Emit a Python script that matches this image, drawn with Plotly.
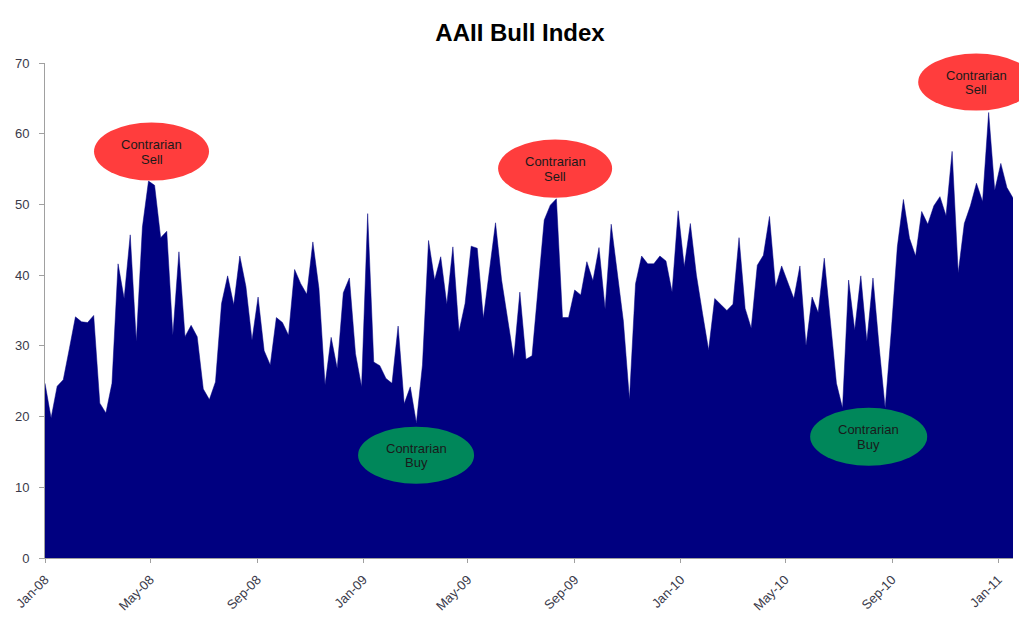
import pandas as pd
import plotly.graph_objects as go

# Weekly AAII bullish sentiment (%)
bull = [
    24.7, 19.8, 24.3, 25.2, 29.6, 34.1, 33.4, 33.3, 34.3, 21.9,
    20.5, 24.7, 41.6, 36.7, 45.7, 30.6, 46.8, 53.3, 52.7, 45.3,
    46.2, 31.5, 43.3, 31.3, 32.9, 31.3, 23.9, 22.4, 24.9, 36.0,
    39.9, 35.8, 42.7, 38.4, 30.8, 36.9, 29.3, 27.3, 34.0, 33.3,
    31.5, 40.8, 38.8, 37.3, 44.7, 38.1, 24.5, 31.2, 26.8, 37.5,
    39.6, 28.9, 24.2, 48.7, 27.7, 27.2, 25.4, 24.7, 32.8, 21.8,
    24.2, 19.1, 27.3, 44.9, 39.3, 42.6, 35.9, 44.0, 32.0, 36.0,
    44.1, 43.8, 33.9, 40.5, 47.4, 39.3, 33.6, 28.2, 37.6, 28.1,
    28.6, 38.0, 47.8, 49.9, 50.8, 34.0, 34.0, 37.9, 37.2, 41.9,
    39.2, 43.9, 35.2, 47.2, 40.0, 33.5, 22.4, 38.8, 42.7, 41.6,
    41.6, 42.7, 42.0, 37.6, 49.1, 41.2, 47.3, 40.0, 34.6, 29.4,
    36.7, 35.9, 35.0, 35.9, 45.3, 35.3, 32.5, 41.4, 42.8, 48.3,
    38.3, 41.3, 39.1, 36.7, 41.3, 30.0, 36.9, 34.7, 42.4, 33.5,
    24.7, 21.2, 39.3, 32.2, 39.9, 30.6, 39.6, 30.0, 21.2, 32.0,
    44.0, 50.7, 45.2, 42.7, 49.0, 47.2, 49.8, 51.1, 48.4, 57.5,
    40.3, 47.3, 49.8, 53.0, 50.4, 63.0, 52.0, 55.8, 52.4, 50.9,
]
start_date = "2008-01-03"
dates = pd.date_range(start_date, periods=len(bull), freq="7D")

tick_dates = [dates[0] + pd.DateOffset(months=4 * k) for k in range(10)]
tick_labels = [d.strftime("%b-%y") for d in tick_dates]

title_text = "AAII Bull Index"
bubble_line1 = ["Contrarian"] * 5
bubble_line2 = ["Sell", "Sell", "Buy", "Buy", "Sell"]
bubble_kinds = ["sell", "sell", "buy", "buy", "sell"]
# bubble boxes in page pixels (x0, x1, y0, y1)
bubble_boxes = [
    (94, 209, 123, 181),
    (498, 612, 140, 198),
    (358, 474, 427, 484),
    (810, 927, 408, 466),
    (918, 1034, 54, 111),
]
bubble_colors = {"sell": "#FF3D3D", "buy": "#00875A"}

W, H = 1027, 623
OFF = 8  # page offset of the figure (body margin)
# plot area in page pixels
L, R, T, B = 45, 1012.8, 63.4, 558.3


def px_x(px):
    return (px - L) / (R - L)


def px_y(py):
    return (B - py) / (B - T)


fig = go.Figure()
fig.add_trace(go.Scatter(
    x=dates, y=bull, mode="lines", fill="tozeroy",
    line=dict(color="#000080", width=0.5), fillcolor="#000080",
    hoverinfo="skip", showlegend=False,
))

shapes = []
annotations = []
bubble_font = dict(family="Liberation Sans, Arial, sans-serif", size=13, color="#1a1a1a")
for (x0, x1, y0, y1), kind, t1, t2 in zip(bubble_boxes, bubble_kinds, bubble_line1, bubble_line2):
    shapes.append(dict(
        type="circle", xref="paper", yref="paper",
        x0=px_x(x0), x1=px_x(x1), y0=px_y(y1), y1=px_y(y0),
        fillcolor=bubble_colors[kind], line=dict(width=0), layer="above",
    ))
    cx, cy = (x0 + x1) / 2, (y0 + y1) / 2
    for txt, dy in ((t1, -7), (t2, 7.5)):
        annotations.append(dict(
            xref="paper", yref="paper",
            x=px_x(cx), y=px_y(cy + dy),
            text=txt, showarrow=False, xanchor="center", yanchor="middle",
            font=bubble_font,
        ))

axis_font = dict(family="Liberation Sans, Arial, sans-serif", size=13, color="#3a3a4a")

fig.update_layout(
    width=W, height=H,
    margin=dict(l=L - OFF, r=W - (R - OFF), t=T - OFF, b=H - (B - OFF), pad=0,
                autoexpand=False),
    paper_bgcolor="white", plot_bgcolor="white",
    title=dict(text="<b>" + title_text + "</b>", x=(520 - OFF) / W, xanchor="center",
               y=1 - (33 - OFF) / H, yanchor="middle",
               font=dict(family="Liberation Sans, Arial, sans-serif", size=24, color="#000000")),
    xaxis=dict(
        type="date", range=[dates[0], dates[-1]],
        tickmode="array", tickvals=tick_dates, ticktext=tick_labels,
        tickangle=-45, ticks="outside", ticklen=4, tickcolor="#a0a0a0",
        showline=True, linecolor="#a0a0a0", linewidth=1,
        showgrid=False, zeroline=False, tickfont=axis_font,
        ticklabelstandoff=4, automargin=False,
    ),
    yaxis=dict(
        range=[0, 70], dtick=10, tick0=0,
        ticks="outside", ticklen=5, tickcolor="#a0a0a0",
        showline=True, linecolor="#a0a0a0", linewidth=1,
        showgrid=False, zeroline=False, tickfont=axis_font,
        ticklabelstandoff=7, automargin=False,
    ),
    shapes=shapes, annotations=annotations,
    hovermode=False,
)

fig.write_html("out.html")
